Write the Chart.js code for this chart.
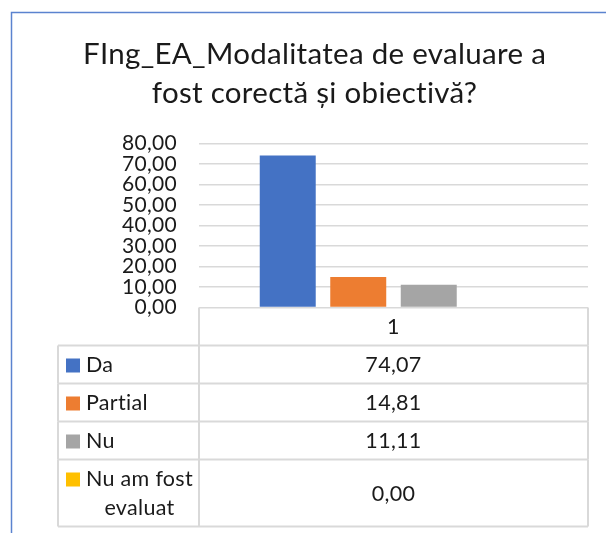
<!DOCTYPE html>
<html>
<head>
<meta charset="utf-8">
<script src="https://cdn.jsdelivr.net/npm/chart.js@4.4.0/dist/chart.umd.min.js"></script>
<style>
  html, body { margin: 0; padding: 0; background: #fff; }
  #wrap { width: 606px; height: 533px; position: relative; }
</style>
</head>
<body>
<div id="wrap"><canvas id="chart" width="606" height="533"></canvas></div>
<script>
const titleLines = ['FIng_EA_Modalitatea de evaluare a', 'fost corectă și obiectivă?'];
const categories = ['1'];
const seriesNames = ['Da', 'Partial', 'Nu', 'Nu am fost evaluat'];
const seriesValues = [74.07, 14.81, 11.11, 0.00];
const seriesColors = ['#4472C4', '#ED7D31', '#A5A5A5', '#FFC000'];
const yTicks = [0, 10, 20, 30, 40, 50, 60, 70, 80];

const FONT = 'Lato, "Open Sans", sans-serif';
const fmt = v => v.toFixed(2).replace('.', ',');

// Excel-style data table under the plot
const dataTable = {
  id: 'dataTable',
  beforeDraw(chart) {
    const ctx = chart.ctx;
    // tiny spacing keeps Lato from using its "ti" ligature
    ctx.letterSpacing = '0.3px';
    ctx.save();
    ctx.strokeStyle = '#5b83cf';
    ctx.lineWidth = 1.5;
    ctx.beginPath();
    ctx.moveTo(11.5, 533);
    ctx.lineTo(11.5, 12.5);
    ctx.lineTo(606, 12.5);
    ctx.stroke();
    ctx.restore();
  },
  afterDraw(chart) {
    const ctx = chart.ctx;
    const area = chart.chartArea;
    const xs = chart.scales.x;
    const left = 58, mid = area.left, right = area.right;
    const headTop = area.bottom, headH = 38;
    const lineH = 29;

    ctx.save();
    ctx.font = '21.5px ' + FONT;
    ctx.fillStyle = '#1a1a1a';
    ctx.strokeStyle = '#d9d9d9';
    ctx.lineWidth = 2;
    ctx.textBaseline = 'middle';

    // header row with category labels
    ctx.beginPath();
    ctx.moveTo(mid, headTop); ctx.lineTo(mid, headTop + headH);
    ctx.moveTo(right, headTop); ctx.lineTo(right, headTop + headH);
    ctx.stroke();
    ctx.textAlign = 'center';
    categories.forEach((c, i) => ctx.fillText(c, xs.getPixelForTick(i), headTop + headH / 2 + 1));

    // series rows
    let y = headTop + headH;
    const maxW = mid - 86 - 1;
    ctx.beginPath();
    ctx.moveTo(left, y); ctx.lineTo(right, y);
    ctx.stroke();
    seriesNames.forEach((name, i) => {
      const words = name.split(' ');
      const lines = [];
      let cur = '';
      words.forEach(w => {
        const t = cur ? cur + ' ' + w : w;
        if (ctx.measureText(t).width > maxW && cur) { lines.push(cur); cur = w; } else cur = t;
      });
      lines.push(cur);
      const h = lines.length * lineH + 9;
      const top = y;
      y += h;

      ctx.beginPath();
      ctx.moveTo(left, y); ctx.lineTo(right, y);
      ctx.moveTo(left, top); ctx.lineTo(left, y);
      ctx.moveTo(mid, top); ctx.lineTo(mid, y);
      ctx.moveTo(right, top); ctx.lineTo(right, y);
      ctx.stroke();

      const firstY = top + 4.5 + lineH / 2 + 1;
      ctx.fillStyle = seriesColors[i];
      ctx.fillRect(66, firstY - 7, 14, 14);
      ctx.fillStyle = '#1a1a1a';
      if (lines.length === 1) {
        ctx.textAlign = 'left';
        ctx.fillText(lines[0], 86, firstY);
      } else {
        ctx.textAlign = 'center';
        const cx = 86 + ctx.measureText(lines[0]).width / 2;
        lines.forEach((l, k) => ctx.fillText(l, cx, firstY + k * lineH));
      }
      ctx.textAlign = 'center';
      ctx.fillText(fmt(seriesValues[i]), xs.getPixelForTick(0), (top + y) / 2 + 1);
    });
    ctx.restore();
  }
};

function draw() {
  new Chart(document.getElementById('chart'), {
    type: 'bar',
    data: {
      labels: categories,
      datasets: seriesNames.map((name, i) => ({
        label: name,
        data: [seriesValues[i]],
        backgroundColor: seriesColors[i],
        categoryPercentage: 0.725,
        barPercentage: 0.794
      }))
    },
    options: {
      responsive: false,
      animation: false,
      layout: { padding: { left: 41, right: 18, top: 0, bottom: 225.5 } },
      plugins: {
        legend: { display: false },
        tooltip: { enabled: false },
        title: {
          display: true,
          text: titleLines,
          color: '#1a1a1a',
          font: { family: FONT, size: 29.5, weight: 'normal', lineHeight: 1.32 },
          padding: { top: 35, bottom: 30.5 }
        }
      },
      scales: {
        x: { display: false },
        y: {
          min: yTicks[0],
          max: yTicks[yTicks.length - 1],
          afterBuildTicks: scale => { scale.ticks = yTicks.map(v => ({ value: v })); },
          afterFit: scale => { scale.width = 158; },
          border: { display: false },
          grid: { color: '#d9d9d9', lineWidth: 1.5, drawTicks: false },
          ticks: {
            autoSkip: false,
            padding: 22,
            color: '#1a1a1a',
            font: { family: FONT, size: 21 },
            callback: v => fmt(v)
          }
        }
      }
    },
    plugins: [dataTable]
  });
}

if (document.fonts && document.fonts.load) {
  Promise.all([document.fonts.load('21px Lato'), document.fonts.load('29px Lato')]).then(draw, draw);
} else {
  draw();
}
</script>
</body>
</html>
